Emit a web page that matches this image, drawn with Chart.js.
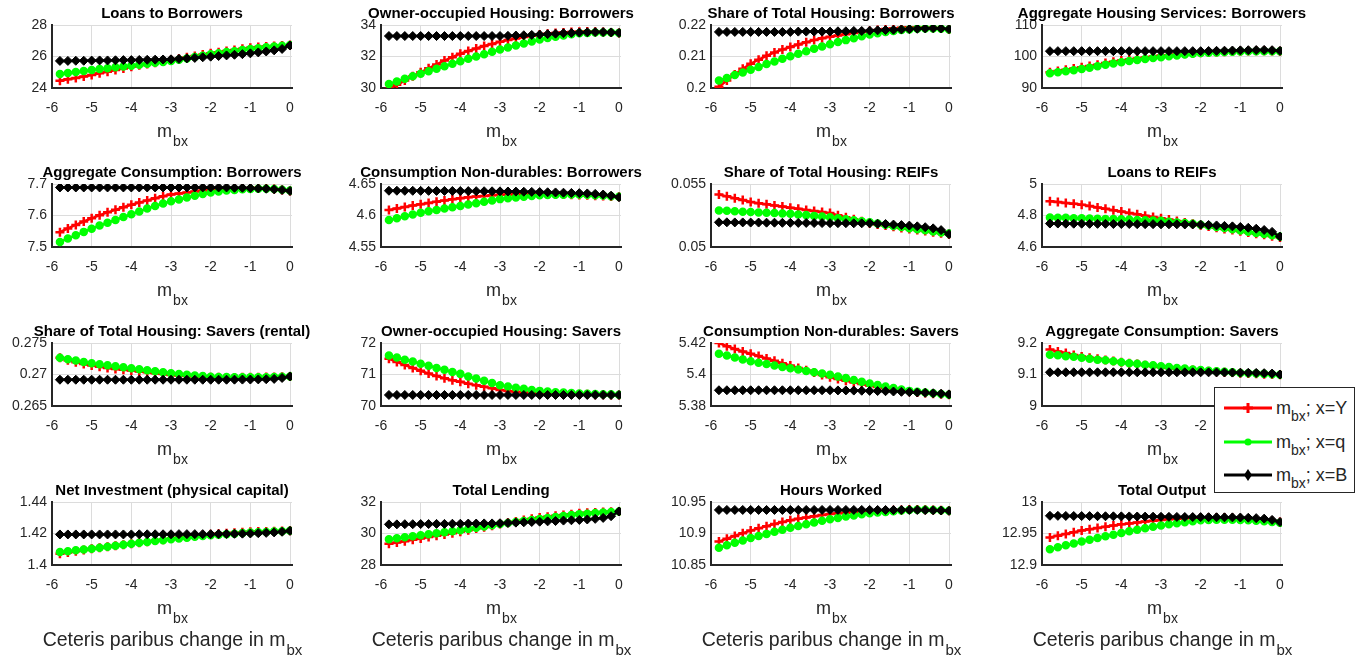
<!DOCTYPE html>
<html>
<head>
<meta charset="utf-8">
<script src="https://cdn.jsdelivr.net/npm/chart.js@4.4.1/dist/chart.umd.min.js"></script>
<style>
body { margin: 0; background: #fff; width: 1370px; height: 658px; position: relative; overflow: hidden; font-family: 'Liberation Sans', Arial, sans-serif; }
canvas { position: absolute; }
#legend { position: absolute; left: 1214px; top: 387px; width: 139px; height: 104px; border: 1px solid #262626; background: #fff; z-index: 5; }
#legend .row { position: absolute; left: 9px; height: 24px; display: flex; align-items: center; white-space: nowrap; }
#legend svg { margin-right: 4px; }
#legend span { font-size: 18px; color: #262626; line-height: 24px; }
#legend sub { font-size: 14px; vertical-align: -7px; line-height: 0; }
</style>
</head>
<body>
<div id="legend">
  <div class="row" style="top:8px"><svg width="48" height="14"><line x1="0" y1="7" x2="48" y2="7" stroke="#ff0000" stroke-width="3"/><path d="M24 2 V12 M19 7 H29" stroke="#ff0000" stroke-width="3"/></svg><span>m<sub>bx</sub>; x=Y</span></div>
  <div class="row" style="top:42px"><svg width="48" height="14"><line x1="0" y1="7" x2="48" y2="7" stroke="#00ff00" stroke-width="3"/><circle cx="24" cy="7" r="3.5" fill="#00ff00"/></svg><span>m<sub>bx</sub>; x=q</span></div>
  <div class="row" style="top:75px"><svg width="48" height="14"><line x1="0" y1="7" x2="48" y2="7" stroke="#000" stroke-width="3"/><path d="M24 1 L28 7 L24 13 L20 7 Z" fill="#000"/></svg><span>m<sub>bx</sub>; x=B</span></div>
</div>
<script>
// x grid: ceteris paribus change in m_bx
const mbx = [-5.8,-5.6,-5.4,-5.2,-5.0,-4.8,-4.6,-4.4,-4.2,-4.0,-3.8,-3.6,-3.4,-3.2,-3.0,-2.8,-2.6,-2.4,-2.2,-2.0,-1.8,-1.6,-1.4,-1.2,-1.0,-0.8,-0.6,-0.4,-0.2,0];
const xTicks = [-6,-5,-4,-3,-2,-1,0];

const titles = [
  'Loans to Borrowers', 'Owner-occupied Housing: Borrowers', 'Share of Total Housing: Borrowers', 'Aggregate Housing Services: Borrowers',
  'Aggregate Consumption: Borrowers', 'Consumption Non-durables: Borrowers', 'Share of Total Housing: REIFs', 'Loans to REIFs',
  'Share of Total Housing: Savers (rental)', 'Owner-occupied Housing: Savers', 'Consumption Non-durables: Savers', 'Aggregate Consumption: Savers',
  'Net Investment (physical capital)', 'Total Lending', 'Hours Worked', 'Total Output'
];

const yTicks = [
  [24,26,28], [30,32,34], [0.2,0.21,0.22], [90,100,110],
  [7.5,7.6,7.7], [4.55,4.6,4.65], [0.05,0.055], [4.6,4.8,5],
  [0.265,0.27,0.275], [70,71,72], [5.38,5.4,5.42], [9,9.1,9.2],
  [1.4,1.42,1.44], [28,30,32], [10.85,10.9,10.95], [12.9,12.95,13]
];

// Loans to Borrowers
const loansBorY = [24.46,24.55,24.64,24.73,24.83,24.93,25.03,25.14,25.24,25.35,25.44,25.52,25.61,25.69,25.78,25.86,25.95,26.03,26.12,26.20,26.27,26.35,26.42,26.49,26.56,26.60,26.64,26.67,26.70,26.73];
const loansBorQ = [24.89,24.95,25.01,25.08,25.14,25.20,25.25,25.31,25.36,25.42,25.48,25.54,25.60,25.65,25.71,25.80,25.88,25.97,26.05,26.14,26.21,26.28,26.34,26.41,26.48,26.53,26.58,26.63,26.68,26.73];
const loansBorB = [25.72,25.72,25.73,25.73,25.74,25.75,25.75,25.76,25.77,25.77,25.78,25.79,25.80,25.81,25.82,25.85,25.88,25.91,25.95,25.99,26.03,26.07,26.11,26.15,26.20,26.26,26.32,26.39,26.48,26.70];
// Owner-occupied Housing: Borrowers
const ownBorY = [29.95,30.20,30.47,30.74,31.00,31.25,31.50,31.74,31.96,32.18,32.35,32.51,32.67,32.80,32.93,33.04,33.14,33.24,33.32,33.40,33.45,33.50,33.53,33.56,33.57,33.58,33.57,33.56,33.53,33.50];
const ownBorQ = [30.26,30.42,30.58,30.74,30.90,31.06,31.22,31.38,31.54,31.70,31.85,32.00,32.15,32.30,32.44,32.57,32.70,32.83,32.96,33.08,33.17,33.26,33.34,33.41,33.47,33.50,33.52,33.53,33.52,33.50];
const ownBorB = [33.30,33.30,33.30,33.30,33.30,33.30,33.30,33.30,33.30,33.30,33.30,33.30,33.30,33.30,33.30,33.31,33.33,33.35,33.37,33.39,33.42,33.45,33.48,33.50,33.52,33.54,33.55,33.55,33.53,33.50];
// Share of Total Housing: Borrowers
const shareBorY = [0.2004,0.2024,0.2043,0.2061,0.2077,0.2090,0.2102,0.2113,0.2122,0.2130,0.2138,0.2145,0.2152,0.2158,0.2163,0.2167,0.2171,0.2175,0.2178,0.2181,0.2184,0.2187,0.2189,0.2191,0.2193,0.2193,0.2192,0.2191,0.2189,0.2186];
const shareBorQ = [0.2024,0.2032,0.2041,0.2049,0.2058,0.2067,0.2076,0.2084,0.2093,0.2101,0.2109,0.2117,0.2125,0.2132,0.2139,0.2146,0.2152,0.2158,0.2164,0.2170,0.2174,0.2178,0.2181,0.2184,0.2186,0.2188,0.2189,0.2189,0.2188,0.2186];
const shareBorB = [0.2178,0.2178,0.2178,0.2178,0.2178,0.2178,0.2178,0.2178,0.2178,0.2178,0.2179,0.2179,0.2179,0.2179,0.2179,0.2180,0.2180,0.2181,0.2181,0.2182,0.2183,0.2184,0.2185,0.2186,0.2187,0.2188,0.2189,0.2190,0.2189,0.2187];
// Aggregate Housing Services: Borrowers
const servBorY = [95.0,95.4,95.8,96.2,96.6,97.0,97.4,97.9,98.3,98.7,99.05,99.4,99.7,100.0,100.3,100.5,100.7,100.9,101.05,101.2,101.3,101.4,101.5,101.6,101.7,101.75,101.8,101.8,101.75,101.7];
const servBorQ = [94.7,95.0,95.35,95.65,96.0,96.45,96.9,97.35,97.8,98.2,98.55,98.9,99.2,99.5,99.8,100.1,100.35,100.6,100.85,101.1,101.2,101.3,101.4,101.5,101.6,101.65,101.7,101.7,101.7,101.7];
const servBorB = [101.7,101.7,101.7,101.7,101.7,101.7,101.7,101.7,101.7,101.7,101.7,101.7,101.7,101.7,101.7,101.7,101.7,101.7,101.7,101.7,101.75,101.8,101.85,101.9,101.95,102.0,102.05,102.1,102.0,101.8];
// Aggregate Consumption: Borrowers
const consBorY = [7.547,7.559,7.570,7.581,7.591,7.601,7.610,7.618,7.626,7.634,7.641,7.648,7.655,7.661,7.667,7.670,7.673,7.676,7.679,7.682,7.683,7.684,7.685,7.686,7.687,7.687,7.686,7.684,7.681,7.678];
const consBorQ = [7.516,7.527,7.537,7.548,7.558,7.568,7.577,7.586,7.595,7.604,7.613,7.622,7.630,7.638,7.645,7.651,7.657,7.663,7.668,7.673,7.676,7.679,7.681,7.683,7.684,7.685,7.685,7.684,7.682,7.679];
const consBorB = [7.689,7.689,7.689,7.689,7.689,7.689,7.689,7.689,7.689,7.689,7.689,7.689,7.689,7.689,7.689,7.689,7.689,7.689,7.689,7.689,7.689,7.689,7.688,7.688,7.687,7.686,7.685,7.683,7.681,7.678];
// Consumption Non-durables: Borrowers
const ndBorY = [4.6088,4.6112,4.6135,4.6158,4.6180,4.6200,4.6220,4.6239,4.6257,4.6275,4.6288,4.6300,4.6311,4.6321,4.6330,4.6333,4.6336,4.6338,4.6339,4.6340,4.6339,4.6337,4.6334,4.6330,4.6325,4.6320,4.6315,4.6309,4.6303,4.6297];
const ndBorQ = [4.5928,4.5957,4.5987,4.6016,4.6045,4.6067,4.6089,4.6110,4.6131,4.6152,4.6174,4.6196,4.6218,4.6239,4.6260,4.6273,4.6286,4.6298,4.6309,4.6320,4.6324,4.6328,4.6331,4.6333,4.6334,4.6329,4.6323,4.6316,4.6307,4.6297];
const ndBorB = [4.6393,4.6393,4.6392,4.6392,4.6391,4.6391,4.6390,4.6390,4.6389,4.6388,4.6387,4.6386,4.6385,4.6384,4.6383,4.6381,4.6379,4.6377,4.6375,4.6372,4.6369,4.6366,4.6362,4.6358,4.6355,4.6350,4.6343,4.6333,4.6315,4.6290];
// Share of Total Housing: REIFs
const shareReifY = [0.05417,0.05402,0.05387,0.05373,0.05358,0.05348,0.05339,0.05330,0.05321,0.05312,0.05303,0.05294,0.05286,0.05277,0.05269,0.05252,0.05236,0.05220,0.05204,0.05188,0.05179,0.05170,0.05161,0.05151,0.05142,0.05134,0.05126,0.05118,0.05110,0.05102];
const shareReifQ = [0.05290,0.05287,0.05284,0.05280,0.05277,0.05274,0.05271,0.05269,0.05266,0.05263,0.05258,0.05253,0.05247,0.05242,0.05237,0.05229,0.05221,0.05212,0.05204,0.05196,0.05186,0.05177,0.05167,0.05158,0.05148,0.05140,0.05132,0.05124,0.05116,0.05108];
const shareReifB = [0.05196,0.05196,0.05195,0.05195,0.05194,0.05194,0.05193,0.05193,0.05192,0.05192,0.05191,0.05191,0.05190,0.05190,0.05189,0.05189,0.05189,0.05188,0.05188,0.05188,0.05185,0.05182,0.05178,0.05174,0.05170,0.05164,0.05157,0.05148,0.05134,0.05102];
// Loans to REIFs
const loansReifY = [4.891,4.886,4.880,4.875,4.869,4.860,4.851,4.843,4.834,4.825,4.816,4.808,4.799,4.791,4.783,4.774,4.765,4.756,4.747,4.738,4.730,4.723,4.715,4.708,4.700,4.692,4.684,4.677,4.669,4.661];
const loansReifQ = [4.788,4.786,4.785,4.783,4.782,4.781,4.780,4.778,4.777,4.776,4.774,4.772,4.770,4.768,4.766,4.761,4.756,4.752,4.747,4.742,4.735,4.727,4.720,4.712,4.705,4.697,4.689,4.682,4.674,4.666];
const loansReifB = [4.749,4.749,4.748,4.748,4.748,4.747,4.747,4.747,4.746,4.746,4.746,4.745,4.745,4.745,4.744,4.744,4.744,4.743,4.743,4.742,4.740,4.737,4.734,4.731,4.727,4.722,4.716,4.708,4.696,4.666];
// Share of Total Housing: Savers (rental)
const shareSavY = [0.27265,0.27228,0.27195,0.27167,0.27142,0.27122,0.27104,0.27088,0.27074,0.27062,0.27048,0.27034,0.27020,0.27006,0.26992,0.26985,0.26977,0.26970,0.26962,0.26955,0.26955,0.26954,0.26954,0.26955,0.26955,0.26957,0.26959,0.26962,0.26966,0.26970];
const shareSavQ = [0.27265,0.27243,0.27221,0.27200,0.27179,0.27163,0.27147,0.27131,0.27115,0.27099,0.27083,0.27067,0.27051,0.27035,0.27019,0.27008,0.26997,0.26986,0.26975,0.26965,0.26962,0.26960,0.26958,0.26956,0.26955,0.26956,0.26958,0.26961,0.26965,0.26970];
const shareSavB = [0.26917,0.26917,0.26917,0.26917,0.26917,0.26917,0.26917,0.26917,0.26917,0.26917,0.26917,0.26917,0.26917,0.26917,0.26917,0.26917,0.26917,0.26917,0.26917,0.26917,0.26917,0.26917,0.26918,0.26919,0.26920,0.26922,0.26925,0.26930,0.26945,0.26970];
// Owner-occupied Housing: Savers
const ownSavY = [71.50,71.40,71.30,71.21,71.12,71.03,70.95,70.88,70.82,70.77,70.71,70.66,70.61,70.56,70.51,70.48,70.45,70.43,70.41,70.40,70.39,70.39,70.38,70.38,70.37,70.37,70.36,70.36,70.35,70.35];
const ownSavQ = [71.60,71.54,71.47,71.41,71.34,71.28,71.21,71.15,71.08,71.02,70.94,70.87,70.80,70.73,70.66,70.62,70.58,70.55,70.51,70.48,70.46,70.44,70.43,70.41,70.40,70.39,70.38,70.37,70.37,70.36];
const ownSavB = [70.35,70.35,70.35,70.35,70.35,70.35,70.35,70.35,70.35,70.35,70.35,70.35,70.35,70.35,70.35,70.35,70.35,70.35,70.35,70.35,70.35,70.35,70.35,70.35,70.35,70.35,70.35,70.35,70.35,70.35];
// Consumption Non-durables: Savers
const ndSavY = [5.4200,5.4180,5.4162,5.4146,5.4132,5.4117,5.4102,5.4087,5.4072,5.4057,5.4042,5.4027,5.4012,5.3997,5.3982,5.3971,5.3960,5.3950,5.3939,5.3928,5.3920,5.3912,5.3905,5.3897,5.3890,5.3886,5.3882,5.3878,5.3874,5.3871];
const ndSavQ = [5.4132,5.4120,5.4108,5.4096,5.4084,5.4075,5.4066,5.4057,5.4048,5.4039,5.4031,5.4023,5.4015,5.4007,5.3999,5.3988,5.3977,5.3965,5.3954,5.3943,5.3934,5.3924,5.3915,5.3905,5.3896,5.3891,5.3886,5.3881,5.3876,5.3871];
const ndSavB = [5.3900,5.3900,5.3900,5.3900,5.3900,5.3900,5.3900,5.3900,5.3900,5.3900,5.3900,5.3900,5.3900,5.3900,5.3900,5.3899,5.3899,5.3898,5.3897,5.3896,5.3895,5.3894,5.3892,5.3890,5.3888,5.3886,5.3884,5.3881,5.3878,5.3874];
// Aggregate Consumption: Savers
const consSavY = [9.179,9.173,9.168,9.162,9.157,9.153,9.150,9.146,9.143,9.139,9.136,9.133,9.129,9.126,9.123,9.121,9.119,9.116,9.114,9.112,9.110,9.109,9.107,9.106,9.104,9.103,9.102,9.101,9.100,9.0995];
const consSavQ = [9.163,9.161,9.158,9.156,9.153,9.150,9.147,9.145,9.142,9.139,9.136,9.134,9.131,9.129,9.126,9.124,9.121,9.119,9.116,9.114,9.112,9.110,9.109,9.107,9.105,9.104,9.103,9.102,9.101,9.0995];
const consSavB = [9.107,9.107,9.107,9.107,9.107,9.107,9.107,9.107,9.107,9.107,9.107,9.107,9.107,9.107,9.107,9.107,9.107,9.107,9.107,9.107,9.1068,9.1066,9.1064,9.1061,9.1058,9.1054,9.1050,9.1042,9.1030,9.1000];
// Net Investment (physical capital)
const invY = [1.4071,1.4079,1.4087,1.4095,1.4103,1.4109,1.4116,1.4122,1.4129,1.4135,1.4142,1.4148,1.4155,1.4161,1.4168,1.4174,1.4179,1.4185,1.4190,1.4196,1.4199,1.4202,1.4205,1.4208,1.4211,1.4212,1.4213,1.4215,1.4216,1.4217];
const invQ = [1.4082,1.4087,1.4093,1.4098,1.4103,1.4109,1.4116,1.4122,1.4129,1.4135,1.4141,1.4146,1.4152,1.4157,1.4163,1.4168,1.4173,1.4179,1.4184,1.4189,1.4192,1.4196,1.4199,1.4203,1.4206,1.4208,1.4210,1.4213,1.4215,1.4217];
const invB = [1.4194,1.4194,1.4194,1.4194,1.4194,1.4194,1.4194,1.4194,1.4194,1.4194,1.4195,1.4195,1.4195,1.4195,1.4195,1.4196,1.4196,1.4196,1.4196,1.4196,1.4197,1.4197,1.4198,1.4199,1.4200,1.4202,1.4204,1.4207,1.4211,1.4217];
// Total Lending
const lendY = [29.35,29.43,29.51,29.60,29.68,29.77,29.85,29.94,30.02,30.11,30.21,30.31,30.40,30.50,30.60,30.68,30.76,30.85,30.93,31.01,31.07,31.12,31.18,31.23,31.29,31.31,31.33,31.36,31.38,31.40];
const lendQ = [29.63,29.70,29.76,29.83,29.89,29.95,30.02,30.08,30.15,30.21,30.29,30.37,30.44,30.52,30.60,30.66,30.73,30.79,30.86,30.92,30.98,31.04,31.11,31.17,31.23,31.26,31.30,31.33,31.37,31.40];
const lendB = [30.58,30.58,30.59,30.59,30.60,30.60,30.61,30.61,30.62,30.62,30.63,30.63,30.64,30.64,30.65,30.67,30.69,30.71,30.73,30.75,30.77,30.79,30.82,30.84,30.86,30.89,30.93,30.99,31.10,31.40];
// Hours Worked
const hoursY = [10.8872,10.8918,10.8962,10.9005,10.9046,10.9082,10.9117,10.9150,10.9181,10.9210,10.9233,10.9254,10.9274,10.9292,10.9309,10.9320,10.9330,10.9338,10.9345,10.9352,10.9359,10.9365,10.9370,10.9375,10.9380,10.9379,10.9377,10.9374,10.9368,10.9360];
const hoursQ = [10.8774,10.8814,10.8853,10.8890,10.8927,10.8961,10.8994,10.9027,10.9059,10.9090,10.9120,10.9148,10.9175,10.9202,10.9227,10.9248,10.9268,10.9286,10.9304,10.9320,10.9332,10.9343,10.9354,10.9364,10.9374,10.9376,10.9376,10.9374,10.9369,10.9360];
const hoursB = [10.9374,10.9374,10.9374,10.9374,10.9374,10.9374,10.9374,10.9374,10.9374,10.9374,10.9374,10.9374,10.9374,10.9374,10.9374,10.9374,10.9374,10.9374,10.9374,10.9374,10.9374,10.9374,10.9374,10.9374,10.9374,10.9373,10.9371,10.9368,10.9365,10.9360];
// Total Output
const outY = [12.9437,12.9466,12.9494,12.9520,12.9546,12.9567,12.9587,12.9607,12.9626,12.9645,12.9660,12.9675,12.9689,12.9703,12.9716,12.9725,12.9733,12.9741,12.9748,12.9754,12.9755,12.9755,12.9753,12.9748,12.9740,12.9732,12.9722,12.9711,12.9698,12.9683];
const outQ = [12.9251,12.9282,12.9312,12.9342,12.9372,12.9400,12.9428,12.9455,12.9482,12.9508,12.9534,12.9559,12.9583,12.9606,12.9628,12.9646,12.9663,12.9679,12.9695,12.9710,12.9714,12.9717,12.9718,12.9717,12.9716,12.9711,12.9704,12.9695,12.9684,12.9670];
const outB = [12.9781,12.9780,12.9779,12.9778,12.9777,12.9776,12.9775,12.9774,12.9773,12.9772,12.9771,12.9770,12.9768,12.9767,12.9765,12.9764,12.9763,12.9762,12.9761,12.9760,12.9759,12.9758,12.9757,12.9756,12.9754,12.9750,12.9744,12.9736,12.9716,12.9683];

const seriesY = [loansBorY, ownBorY, shareBorY, servBorY, consBorY, ndBorY, shareReifY, loansReifY, shareSavY, ownSavY, ndSavY, consSavY, invY, lendY, hoursY, outY];
const seriesQ = [loansBorQ, ownBorQ, shareBorQ, servBorQ, consBorQ, ndBorQ, shareReifQ, loansReifQ, shareSavQ, ownSavQ, ndSavQ, consSavQ, invQ, lendQ, hoursQ, outQ];
const seriesB = [loansBorB, ownBorB, shareBorB, servBorB, consBorB, ndBorB, shareReifB, loansReifB, shareSavB, ownSavB, ndSavB, consSavB, invB, lendB, hoursB, outB];

const FONT = "'Liberation Sans', Arial, sans-serif";
const TXT = '#262626';
const plotLefts = [52, 381, 711, 1042];
const plotTops = [25, 184, 343, 502];

function drawSub(ctx, main, sub, cx, y, big, small) {
    ctx.save();
    ctx.fillStyle = TXT;
    ctx.textAlign = 'left';
    ctx.textBaseline = 'alphabetic';
    ctx.font = big + 'px ' + FONT;
    const w1 = ctx.measureText(main).width;
    ctx.font = small + 'px ' + FONT;
    const w2 = ctx.measureText(sub).width;
    const x0 = cx - (w1 + w2) / 2;
    ctx.font = big + 'px ' + FONT;
    ctx.fillText(main, x0, y);
    ctx.font = small + 'px ' + FONT;
    ctx.fillText(sub, x0 + w1 + 1, y + 9);
    ctx.restore();
}

// title, x label and footer are drawn around the chart area like MATLAB does
const labelPlugin = {
    id: 'mbxLabel',
    afterDraw(chart, args, opts) {
        const ctx = chart.ctx, a = chart.chartArea;
        const cx = (a.left + a.right) / 2;
        ctx.save();
        ctx.fillStyle = '#000';
        ctx.font = 'bold 15px ' + FONT;
        ctx.textAlign = 'center';
        ctx.textBaseline = 'alphabetic';
        ctx.fillText(opts.title, cx, a.top - 7);
        ctx.restore();
        drawSub(ctx, 'm', 'bx', cx, a.bottom + 49, 18, 14);
        if (opts.footer) drawSub(ctx, 'Ceteris paribus change in m', 'bx', cx, a.bottom + 81, 19.5, 15);
    }
};

function toPoints(vals) {
    return vals.map((v, i) => ({x: mbx[i], y: v}));
}

function makeChart(i) {
    const row = Math.floor(i / 4), col = i % 4;
    const last = row === 3;
    const cv = document.createElement('canvas');
    const w = 330, h = 145 + (last ? 36 : 0);
    cv.width = w; cv.height = h;
    cv.style.width = w + 'px'; cv.style.height = h + 'px';
    cv.style.left = (plotLefts[col] - 50) + 'px';
    cv.style.top = (plotTops[row] - 24) + 'px';
    document.body.appendChild(cv);
    const ticks = yTicks[i];

    new Chart(cv, {
        type: 'line',
        data: {
            datasets: [{
                label: 'x=Y',
                data: toPoints(seriesY[i]),
                borderColor: '#ff0000',
                backgroundColor: '#ff0000',
                borderWidth: 2.5,
                pointStyle: 'cross',
                pointRadius: 4.5,
                pointBorderWidth: 2.5,
                order: 3
            }, {
                label: 'x=q',
                data: toPoints(seriesQ[i]),
                borderColor: '#00ff00',
                backgroundColor: '#00ff00',
                borderWidth: 2.5,
                pointStyle: 'circle',
                pointRadius: 3.5,
                pointBorderWidth: 1.5,
                order: 2
            }, {
                label: 'x=B',
                data: toPoints(seriesB[i]),
                borderColor: '#000000',
                backgroundColor: '#000000',
                borderWidth: 2.5,
                pointStyle: 'rectRot',
                pointRadius: 4.5,
                pointBorderWidth: 1,
                order: 1
            }]
        },
        options: {
            responsive: false,
            animation: false,
            layout: {padding: {left: 2, right: 40, top: 24, bottom: last ? 36 : 0}},
            plugins: {
                legend: {display: false},
                tooltip: {enabled: false},
                title: {display: false},
                mbxLabel: {title: titles[i], footer: last}
            },
            scales: {
                x: {
                    type: 'linear',
                    min: -6,
                    max: 0.05,
                    afterBuildTicks: s => { s.ticks = xTicks.map(v => ({value: v})); },
                    afterFit: s => { s.height = 58; s.paddingLeft = 0; s.paddingRight = 0; },
                    ticks: {color: TXT, font: {family: FONT, size: 14}, padding: 12, maxRotation: 0, autoSkip: false, callback: v => String(v)},
                    grid: {color: '#dcdcdc', lineWidth: 1, drawTicks: false},
                    border: {display: true, color: '#262626', width: 2}
                },
                y: {
                    min: ticks[0],
                    max: ticks[ticks.length - 1],
                    afterBuildTicks: s => { s.ticks = ticks.map(v => ({value: v})); },
                    afterFit: s => { s.width = 48; s.paddingTop = 0; s.paddingBottom = 0; },
                    ticks: {color: TXT, font: {family: FONT, size: 14}, padding: 5, autoSkip: false, callback: v => String(v)},
                    grid: {color: '#dcdcdc', lineWidth: 1, drawTicks: false},
                    border: {display: true, color: '#262626', width: 2}
                }
            }
        },
        plugins: [labelPlugin]
    });
}

for (let i = 0; i < 16; i++) makeChart(i);
</script>
</body>
</html>
